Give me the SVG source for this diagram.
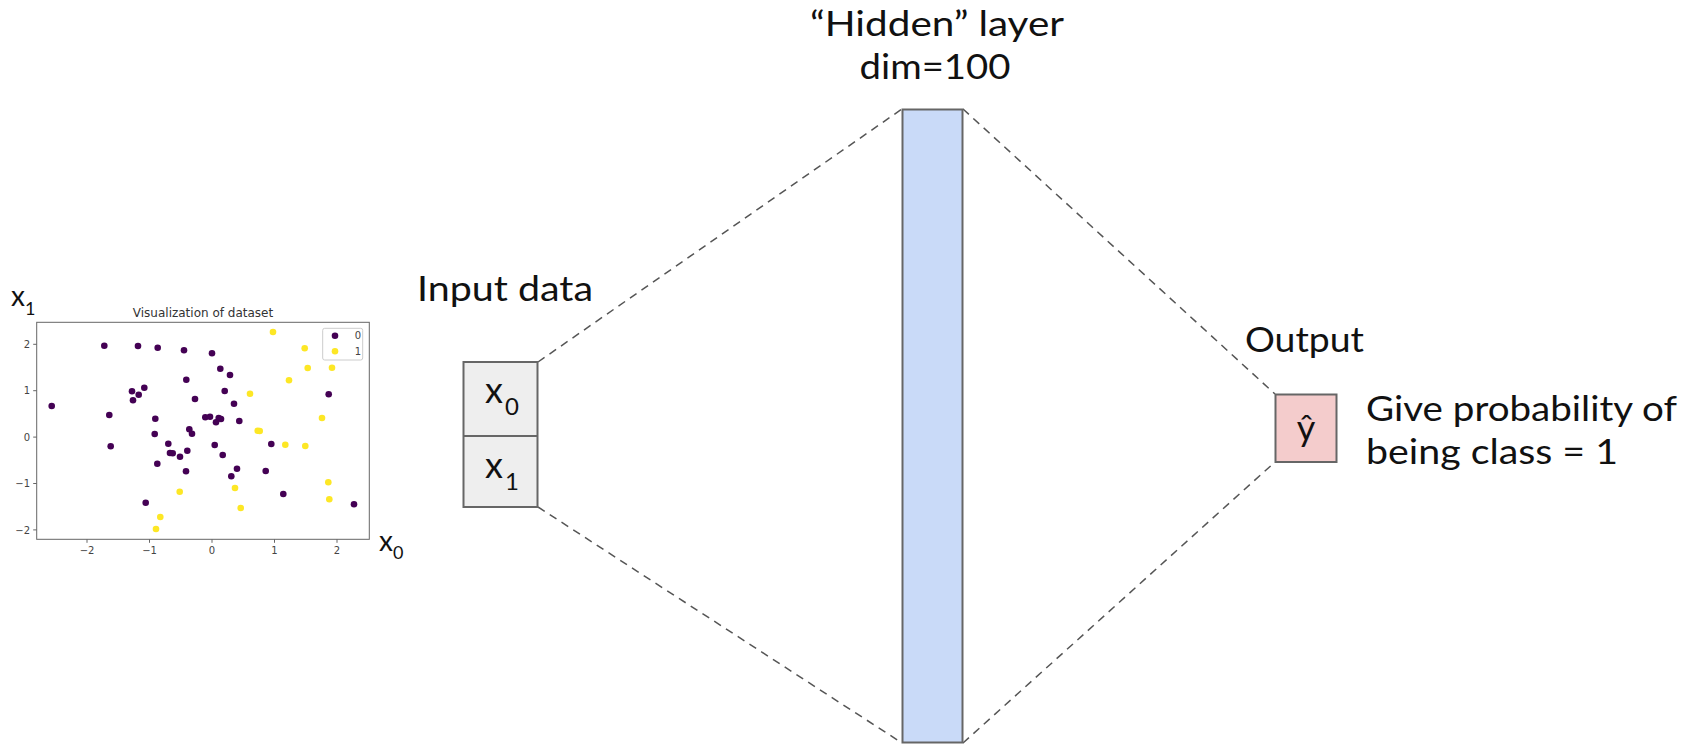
<svg xmlns="http://www.w3.org/2000/svg" width="1694" height="746" viewBox="0 0 1694 746">
<style>
.lbl{font-family:Lato,"Open Sans","Liberation Sans",sans-serif;fill:#111;font-size:34px}
.sub{font-size:24px}
.ax{font-family:"DejaVu Sans","Liberation Sans",sans-serif;fill:#444;font-size:10px}
.p{fill:#440154}
.y{fill:#fde725}
.box{stroke:#666;stroke-width:2}
.dash{stroke:#555;stroke-width:1.5;stroke-dasharray:8 6;fill:none}
</style>
<rect width="1694" height="746" fill="#fff"/>
<g id="plot">
<text class="ax" x="203" y="317" text-anchor="middle" style="font-size:12px;fill:#333">Visualization of dataset</text>
<rect x="36.7" y="322.3" width="332.6" height="217" fill="#fff" stroke="#666" stroke-width="1"/>
<g stroke="#666" stroke-width="1">
<path d="M87 539.3v3.5M149.5 539.3v3.5M212 539.3v3.5M274.5 539.3v3.5M337 539.3v3.5"/>
<path d="M36.7 344.3h-3.5M36.7 390.7h-3.5M36.7 437.1h-3.5M36.7 483.5h-3.5M36.7 529.9h-3.5"/>
</g>
<g class="ax" text-anchor="middle">
<text x="87" y="554">−2</text><text x="149.5" y="554">−1</text><text x="212" y="554">0</text><text x="274.5" y="554">1</text><text x="337" y="554">2</text>
</g>
<g class="ax" text-anchor="end">
<text x="30" y="348">2</text><text x="30" y="394.4">1</text><text x="30" y="440.8">0</text><text x="30" y="487.2">−1</text><text x="30" y="533.6">−2</text>
</g>
<g class="p">
<circle cx="51.7" cy="406" r="3.3"/><circle cx="104.3" cy="345.7" r="3.3"/><circle cx="138" cy="346" r="3.3"/><circle cx="157.7" cy="347.7" r="3.3"/><circle cx="184" cy="350.3" r="3.3"/><circle cx="212" cy="353.3" r="3.3"/><circle cx="220.3" cy="368.7" r="3.3"/><circle cx="230" cy="375" r="3.3"/><circle cx="186.3" cy="379.7" r="3.3"/><circle cx="132" cy="391.3" r="3.3"/><circle cx="144.3" cy="387.7" r="3.3"/><circle cx="138.7" cy="394.7" r="3.3"/><circle cx="133" cy="400.3" r="3.3"/><circle cx="224.7" cy="391" r="3.3"/><circle cx="195" cy="399" r="3.3"/><circle cx="234" cy="403.7" r="3.3"/><circle cx="328.7" cy="394.3" r="3.3"/><circle cx="109.3" cy="415" r="3.3"/><circle cx="155.3" cy="418.7" r="3.3"/><circle cx="205.3" cy="417.3" r="3.3"/><circle cx="210" cy="416.7" r="3.3"/><circle cx="218.7" cy="418" r="3.3"/><circle cx="221" cy="419" r="3.3"/><circle cx="216" cy="422.3" r="3.3"/><circle cx="239.3" cy="421" r="3.3"/><circle cx="189.3" cy="429.3" r="3.3"/><circle cx="192" cy="433.7" r="3.3"/><circle cx="154.7" cy="434" r="3.3"/><circle cx="110.7" cy="446.3" r="3.3"/><circle cx="168.3" cy="443.7" r="3.3"/><circle cx="170" cy="453" r="3.3"/><circle cx="172.7" cy="453.3" r="3.3"/><circle cx="180" cy="456.7" r="3.3"/><circle cx="187.3" cy="450.7" r="3.3"/><circle cx="214.7" cy="445" r="3.3"/><circle cx="222.7" cy="455" r="3.3"/><circle cx="271.3" cy="444" r="3.3"/><circle cx="157.3" cy="463.7" r="3.3"/><circle cx="186" cy="471.3" r="3.3"/><circle cx="237" cy="468.7" r="3.3"/><circle cx="265.7" cy="471" r="3.3"/><circle cx="231.3" cy="476.3" r="3.3"/><circle cx="283.3" cy="494" r="3.3"/><circle cx="145.7" cy="502.7" r="3.3"/><circle cx="354" cy="504.3" r="3.3"/>
</g>
<g class="y">
<circle cx="273" cy="332" r="3.3"/><circle cx="304.7" cy="348.3" r="3.3"/><circle cx="307.7" cy="368" r="3.3"/><circle cx="332" cy="367.7" r="3.3"/><circle cx="289" cy="380.3" r="3.3"/><circle cx="250" cy="393.7" r="3.3"/><circle cx="322" cy="418" r="3.3"/><circle cx="257.7" cy="430.7" r="3.3"/><circle cx="259.7" cy="431" r="3.3"/><circle cx="285.3" cy="444.7" r="3.3"/><circle cx="305.3" cy="446" r="3.3"/><circle cx="328.3" cy="482.3" r="3.3"/><circle cx="235" cy="488" r="3.3"/><circle cx="179.7" cy="491.7" r="3.3"/><circle cx="329.3" cy="499.3" r="3.3"/><circle cx="240.7" cy="508" r="3.3"/><circle cx="160.3" cy="517" r="3.3"/><circle cx="156" cy="529" r="3.3"/>
</g>
<g id="legend">
<rect x="322.7" y="328.3" width="40" height="31.7" rx="2" fill="#fff" fill-opacity="0.8" stroke="#ccc" stroke-width="1"/>
<circle class="p" cx="335" cy="335.7" r="3.3"/>
<circle class="y" cx="335" cy="351.3" r="3.3"/>
<text class="ax" x="358" y="339.2" text-anchor="middle">0</text>
<text class="ax" x="358" y="354.8" text-anchor="middle">1</text>
</g>
<text class="lbl" x="11" y="306" style="font-size:28px">x<tspan x="25" y="315" style="font-size:18px">1</tspan></text>
<text class="lbl" x="379" y="551" style="font-size:28px">x<tspan x="393" y="559" style="font-size:18px">0</tspan></text>
</g>
<g id="connectors">
<line class="dash" x1="538" y1="362" x2="902" y2="109"/>
<line class="dash" x1="538" y1="507" x2="902" y2="743"/>
<line class="dash" x1="963" y1="109" x2="1275" y2="394"/>
<line class="dash" x1="963" y1="743" x2="1275" y2="462"/>
</g>
<g id="input">
<text class="lbl" x="417" y="301" textLength="176" lengthAdjust="spacingAndGlyphs">Input data</text>
<rect class="box" x="463.5" y="362" width="74" height="145" fill="#eeeeee"/>
<line class="box" x1="463.5" y1="436" x2="537.5" y2="436"/>
<text class="lbl" x="485" y="403" style="font-size:36px">x<tspan class="sub" x="505" y="415">0</tspan></text>
<text class="lbl" x="485" y="478" style="font-size:36px">x<tspan class="sub" x="505" y="490">1</tspan></text>
</g>
<g id="hidden">
<text class="lbl" x="937" y="36" text-anchor="middle" textLength="254" lengthAdjust="spacingAndGlyphs">“Hidden” layer</text>
<text class="lbl" x="935" y="79" text-anchor="middle" textLength="151" lengthAdjust="spacingAndGlyphs">dim=100</text>
<rect class="box" x="902.5" y="109.5" width="60" height="633" fill="#c9daf8"/>
</g>
<g id="output">
<text class="lbl" x="1245" y="352" textLength="119" lengthAdjust="spacingAndGlyphs">Output</text>
<rect class="box" x="1275.5" y="394.5" width="61" height="67.5" fill="#f4cccc"/>
<text class="lbl" x="1306" y="441" text-anchor="middle" style="font-size:36px">ŷ</text>
<text class="lbl" x="1366" y="421" textLength="311" lengthAdjust="spacingAndGlyphs">Give probability of</text>
<text class="lbl" x="1366" y="464" textLength="252" lengthAdjust="spacingAndGlyphs">being class = 1</text>
</g>
</svg>
